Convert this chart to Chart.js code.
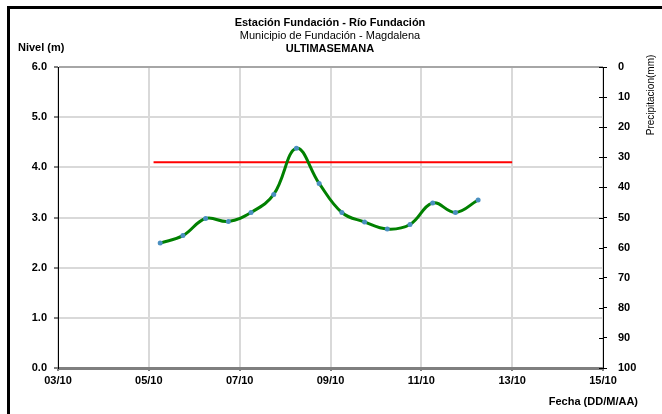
<!DOCTYPE html>
<html>
<head>
<meta charset="utf-8">
<script src="https://cdn.jsdelivr.net/npm/chart.js@4"></script>
<style>
  body { margin: 0; background: #fff; }
  #wrap { position: relative; width: 662px; height: 414px; }
  #marco { position: absolute; left: 7px; top: 6px; right: 0; bottom: 0; border-left: 3px solid #000; border-top: 3px solid #000; pointer-events: none; }
</style>
</head>
<body>
<div id="wrap">
  <canvas id="grafica" width="662" height="414"></canvas>
  <div id="marco"></div>
</div>
<script>
// Datos (nivel cada 12 horas)
var fechas = ['05/10 06:00', '05/10 18:00', '06/10 06:00', '06/10 18:00', '07/10 06:00',
              '07/10 18:00', '08/10 06:00', '08/10 18:00', '09/10 06:00', '09/10 18:00',
              '10/10 06:00', '10/10 18:00', '11/10 06:00', '11/10 18:00', '12/10 06:00'];
var nivel = [2.49, 2.64, 2.98, 2.92, 3.10, 3.46, 4.38, 3.68, 3.10, 2.91, 2.77, 2.86, 3.29, 3.10, 3.35];

// linea de alerta
var alertaFechas = ['05/10 02:30', '13/10 00:00'];
var alertaNivel = [4.1, 4.1];

var etiquetasX = ['03/10', '05/10', '07/10', '09/10', '11/10', '13/10', '15/10'];

// dias desde 03/10
function aDias(f) {
    var partes = f.split(' ');
    var dia = parseInt(partes[0].split('/')[0], 10);
    var hm = partes[1].split(':');
    return (dia - 3) + (parseInt(hm[0], 10) + parseInt(hm[1], 10) / 60) / 24;
}

var puntosNivel = fechas.map(function(f, i) { return { x: aDias(f), y: nivel[i] }; });
var puntosAlerta = alertaFechas.map(function(f, i) { return { x: aDias(f), y: alertaNivel[i] }; });

var fuente = "'Liberation Sans', Arial, sans-serif";

var textos = {
    id: 'textos',
    afterDraw: function(chart) {
        var c = chart.ctx;
        c.save();
        c.fillStyle = '#000';
        c.textBaseline = 'middle';
        c.textAlign = 'center';
        c.font = 'bold 11px ' + fuente;
        c.fillText('Estación Fundación - Río Fundación', 330, 22.5);
        c.font = '11px ' + fuente;
        c.fillText('Municipio de Fundación - Magdalena', 330, 35.5);
        c.font = 'bold 11px ' + fuente;
        c.fillText('ULTIMASEMANA', 330, 48.5);

        c.textAlign = 'left';
        c.fillText('Nivel (m)', 18, 47.5);

        c.textAlign = 'right';
        c.fillText('Fecha (DD/M/AA)', 638, 401.5);

        c.save();
        c.translate(651, 95);
        c.rotate(-Math.PI / 2);
        c.textAlign = 'center';
        c.font = '10px ' + fuente;
        c.fillText('Precipitacion(mm)', 0, 0);
        c.restore();

        // marcas hacia adentro del eje derecho
        var s = chart.scales.y1;
        c.strokeStyle = '#000';
        c.lineWidth = 1;
        s.ticks.forEach(function(t) {
            var py = Math.round(s.getPixelForValue(t.value)) + 0.5;
            c.beginPath();
            c.moveTo(s.left - 4, py);
            c.lineTo(s.left, py);
            c.stroke();
        });
        c.restore();
    }
};

var ctx = document.getElementById('grafica');
new Chart(ctx.getContext('2d'), {
    type: 'line',
    data: {
        datasets: [{
            label: 'Nivel',
            data: puntosNivel,
            borderColor: '#008000',
            borderWidth: 3,
            backgroundColor: '#4a8fc0',
            pointBackgroundColor: '#4a8fc0',
            pointBorderWidth: 0,
            pointRadius: 2.5,
            tension: 0.4,
            yAxisID: 'y'
        }, {
            label: 'Alerta',
            data: puntosAlerta,
            borderColor: '#ff0000',
            borderWidth: 2,
            pointRadius: 0,
            tension: 0,
            yAxisID: 'y'
        }]
    },
    options: {
        responsive: false,
        animation: false,
        layout: { padding: { top: 67, left: 0, right: 0, bottom: 0 } },
        plugins: {
            legend: { display: false },
            tooltip: { enabled: false }
        },
        scales: {
            x: {
                type: 'linear',
                min: 0,
                max: 12,
                afterFit: function(scale) { scale.height = 46; },
                ticks: {
                    stepSize: 2,
                    padding: 3,
                    color: '#000',
                    font: { family: fuente, size: 11, weight: 'bold' },
                    maxRotation: 0,
                    callback: function(value) { return etiquetasX[value / 2]; }
                },
                grid: {
                    color: '#d9d9d9',
                    lineWidth: 2,
                    tickLength: 3,
                    tickColor: '#7f7f7f'
                },
                border: { color: '#7f7f7f', width: 3 }
            },
            y: {
                position: 'left',
                min: 0,
                max: 6,
                afterFit: function(scale) { scale.width = 58; },
                ticks: {
                    stepSize: 1,
                    padding: 7,
                    color: '#000',
                    font: { family: fuente, size: 11, weight: 'bold' },
                    callback: function(value) { return value.toFixed(1); }
                },
                grid: {
                    color: function(c) { return c.tick && c.tick.value === 6 ? '#a6a6a6' : '#d9d9d9'; },
                    lineWidth: 2,
                    tickLength: 4,
                    tickColor: '#000',
                    tickWidth: 1
                },
                border: { color: '#000', width: 1 }
            },
            y1: {
                position: 'right',
                min: 0,
                max: 100,
                reverse: true,
                afterFit: function(scale) { scale.width = 59; },
                ticks: {
                    stepSize: 10,
                    padding: 11,
                    color: '#000',
                    font: { family: fuente, size: 11, weight: 'bold' }
                },
                grid: {
                    drawOnChartArea: false,
                    tickLength: 4,
                    tickColor: '#000',
                    tickWidth: 1
                },
                border: { color: '#000', width: 1 }
            }
        }
    },
    plugins: [textos]
});
</script>
</body>
</html>
